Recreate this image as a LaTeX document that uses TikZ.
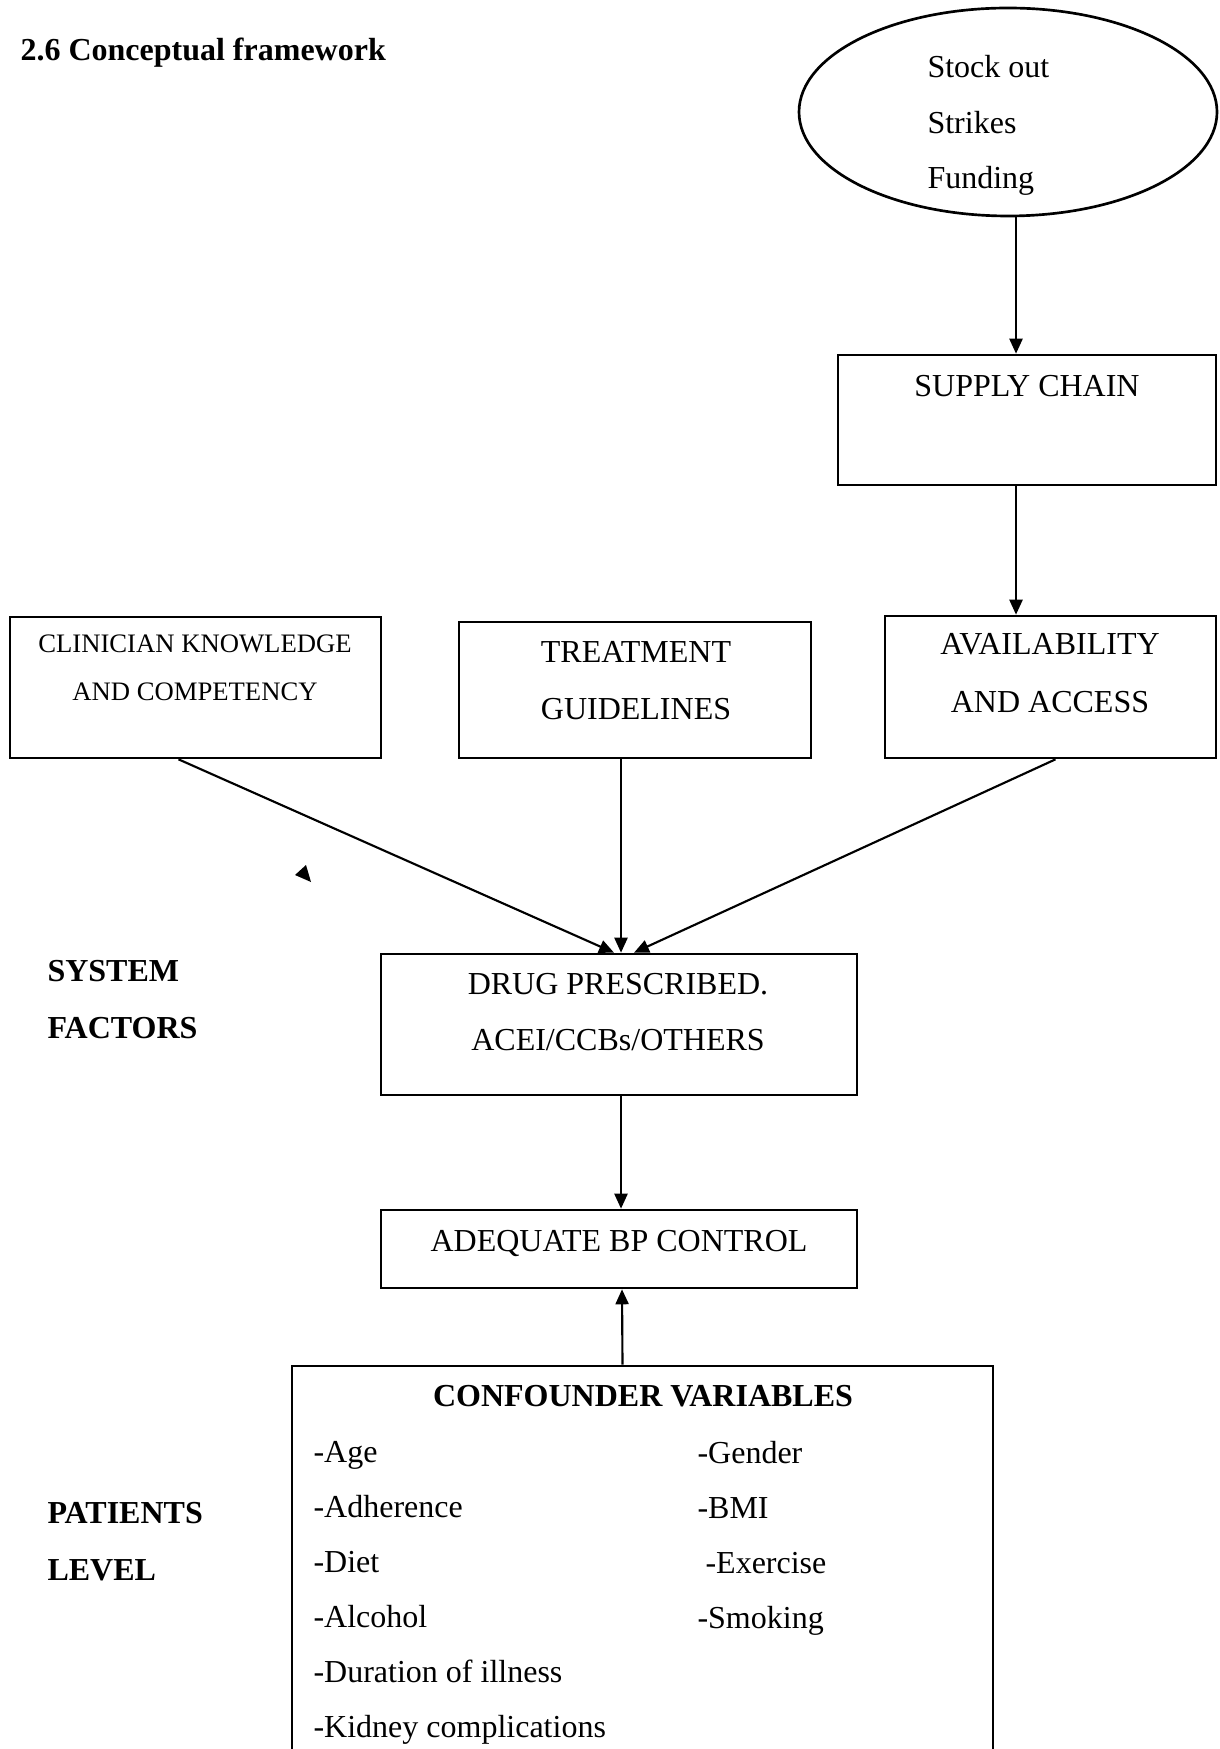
\documentclass[tikz,border=0pt]{standalone}
\usepackage{fontspec}
\setmainfont{Liberation Serif}
\usetikzlibrary{shapes.geometric,arrows.meta}
\newdimen\pxu
\pxu=0.375pt

\begin{document}
\begin{tikzpicture}[x=0.375pt,y=-0.375pt,
  box/.style={draw,line width=1pt,inner sep=0pt},
  txt/.style={inner sep=0pt,align=center,anchor=north,font=\fontsize{12}{21}\selectfont},
  lbl/.style={inner sep=0pt,align=left,anchor=north west,font=\fontsize{12}{21.4}\selectfont\bfseries},
  arr/.style={line width=0.8pt,-{Triangle[length=5.6pt,width=4.9pt]}}
]
\useasboundingbox (0,0) rectangle (1219,1749);
\clip (0,0) rectangle (1219,1749);

\node[lbl] (Title) at (20,37) {2.6 Conceptual framework};

% causes of stock problems
\node[ellipse,draw,line width=1pt,inner sep=0pt,
  minimum width=418\pxu,minimum height=208\pxu] (Causes) at (1008,112) {};
\node[txt,align=left,anchor=north west,font=\fontsize{12}{20.8}\selectfont]
  (CausesText) at (927,55) {Stock out\\Strikes\\Funding};

% supply chain
\node[box,minimum width=378\pxu,minimum height=130\pxu] (SupplyChain) at (1027,420) {};
\node[txt] (SupplyText) at (1027,375) {SUPPLY CHAIN};

% row of three factors
\node[box,minimum width=371\pxu,minimum height=141\pxu] (Clinician) at (195.5,687.5) {};
\node[txt,font=\fontsize{10}{18}\selectfont] (ClinicianText) at (195,634)
  {CLINICIAN KNOWLEDGE\\AND COMPETENCY};
\node[box,minimum width=352\pxu,minimum height=136\pxu] (Guidelines) at (635,690) {};
\node[txt,font=\fontsize{12}{21.4}\selectfont] (GuidelinesText) at (636,641)
  {TREATMENT\\GUIDELINES};
\node[box,minimum width=331\pxu,minimum height=142\pxu] (Availability) at (1050.5,687) {};
\node[txt,font=\fontsize{12}{21.75}\selectfont] (AvailabilityText) at (1050,633)
  {AVAILABILITY\\AND ACCESS};

% drug and outcome
\node[box,minimum width=476\pxu,minimum height=141\pxu] (Drug) at (619,1024.5) {};
\node[txt] (DrugText) at (618,973) {DRUG PRESCRIBED.\\ACEI/CCBs/OTHERS};
\node[box,minimum width=476\pxu,minimum height=78\pxu] (Control) at (619,1249) {};
\node[txt] (ControlText) at (619,1230) {ADEQUATE BP CONTROL};

% confounders
\node[box,minimum width=701\pxu,minimum height=450\pxu] (Confounders) at (642.5,1591) {};
\node[txt,font=\fontsize{12}{21}\selectfont\bfseries] (ConfHead) at (643,1385)
  {CONFOUNDER VARIABLES};
\node[txt,align=left,anchor=north west,font=\fontsize{12}{20.6}\selectfont]
  (ConfLeft) at (313,1441)
  {-Age\\-Adherence\\-Diet\\-Alcohol\\-Duration of illness\\-Kidney complications};
\node[txt,align=left,anchor=north west,font=\fontsize{12}{20.6}\selectfont]
  (ConfRight) at (697,1441)
  {-Gender\\-BMI\\\hspace*{0.25em}-Exercise\\-Smoking};

% side labels
\node[lbl] (SystemLbl) at (47,960) {SYSTEM\\FACTORS};
\node[lbl] (PatientLbl) at (47,1502) {PATIENTS\\LEVEL};

% stray arrow head
\fill (306,865) -- (295,875) -- (311,882) -- cycle;

% connectors
\coordinate (Feed) at (1016,0);
\draw[arr] (Causes.south -| Feed) -- (SupplyChain.north -| Feed);
\draw[arr] (SupplyChain.south -| Feed) -- (Availability.north -| Feed);
\draw[arr] ([xshift=-17\pxu]Clinician.south) -- ([xshift=-5\pxu]Drug.north);
\draw[arr] ([xshift=-14\pxu]Guidelines.south) -- ([xshift=2\pxu]Drug.north);
\draw[arr] ([xshift=5\pxu]Availability.south) -- ([xshift=15\pxu]Drug.north);
\draw[arr] ([xshift=2\pxu]Drug.south) -- ([xshift=2\pxu]Control.north);
\draw[arr] ([xshift=-20\pxu]Confounders.north) -- ([xshift=3\pxu]Control.south);
\end{tikzpicture}
\end{document}
